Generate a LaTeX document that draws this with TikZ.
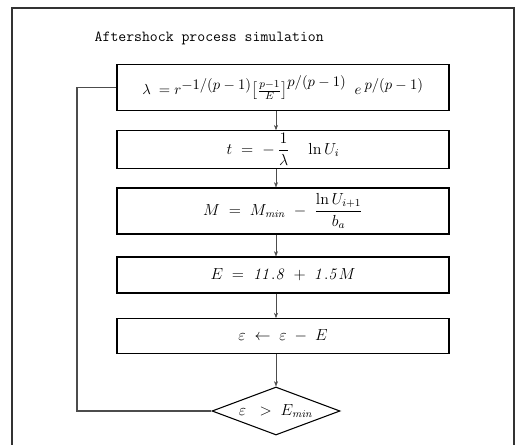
\documentclass[tikz,border=0pt]{standalone}
\usepackage{amsmath, amssymb}
\usepackage{xcolor}
\usepackage{tikz}
\usetikzlibrary{positioning, arrows.meta, shapes.geometric, calc}

\begin{document}
\begin{tikzpicture}[
  x=0.75pt, y=-0.75pt,
  stepbox/.style={rectangle, draw=black, thick, minimum width=249pt, inner sep=2pt, font=\large},
  test/.style={diamond, draw=black, thick, aspect=2.67, minimum width=96pt, minimum height=36pt, inner sep=0pt, font=\large},
  flow/.style={-{Stealth[length=4pt, width=3pt]}, draw=black!70},
  back/.style={thick, draw=black!70}
]
  \useasboundingbox (0,0) rectangle (517,445);
  % frame (bottom runs off the page)
  \draw[thick, black!80] (12,445) -- (12,8) -- (514,8) -- (514,445);
  \node[font=\ttfamily\fontsize{11.5}{13}\selectfont, anchor=west] (title) at (90,38) {Aftershock process simulation};

  % the steps
  \node[stepbox, minimum height=35pt, font=\fontsize{11}{13}\selectfont] (rate) at (283,87.5)
    {$\lambda\;=r^{\textstyle -1/(p-1)}\bigl[\tfrac{p-1}{E}\bigr]^{\textstyle p/(p-1)}\;\;e^{\;\textstyle p/(p-1)}$};
  \node[stepbox, minimum height=27pt] (time) at (283,149.5)
    {$t\;=\;-\,\dfrac{1}{\lambda}\quad\ln U_i$};
  \node[stepbox, minimum height=34.5pt] (mag) at (283,211)
    {$M\;=\;M_{\mathit{min}}\;-\;\dfrac{\ln U_{i+1}}{b_a}$};
  \node[stepbox, minimum height=27pt] (energy) at (283,275)
    {$E\;=\;\mathit{11.8}\;+\;\mathit{1.5}M$};
  \node[stepbox, minimum height=26pt] (update) at (283,336)
    {$\varepsilon\;\leftarrow\;\varepsilon\;-\;E$};
  \node[test] (check) at (276,411) {$\varepsilon\;\;>\;E_{\mathit{min}}$};

  % spine of the arrows
  \coordinate (spine) at (276,0);
  \coordinate (loop) at (77,0);

  \draw[flow] (rate.south -| spine) -- (time.north -| spine);
  \draw[flow] (time.south -| spine) -- (mag.north -| spine);
  \draw[flow] (mag.south -| spine) -- (energy.north -| spine);
  \draw[flow] (energy.south -| spine) -- (update.north -| spine);
  \draw[flow] (update.south -| spine) -- (check.north);

  % back to the rate while energy is left
  \draw[back] (check.west) -- (check.west -| loop) -- (rate.west -| loop) -- (rate.west);
\end{tikzpicture}
\end{document}
